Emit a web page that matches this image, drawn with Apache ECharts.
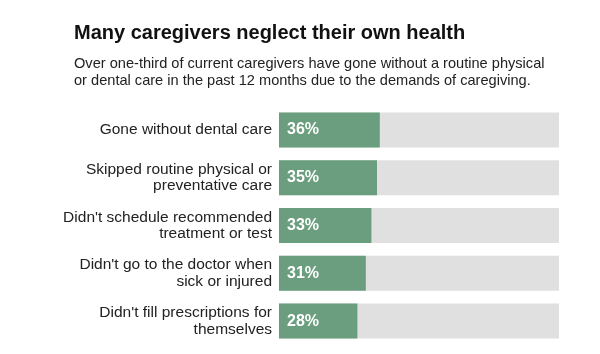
<!DOCTYPE html>
<html>
<head>
<meta charset="utf-8">
<script src="https://cdn.jsdelivr.net/npm/echarts@6/dist/echarts.min.js"></script>
<style>html,body{margin:0;padding:0;background:#fff;}#c{width:600px;height:354px;}</style>
</head>
<body>
<div id="c"></div>
<script>
var titleText = 'Many caregivers neglect their own health';
var subtitleText = 'Over one-third of current caregivers have gone without a routine physical\nor dental care in the past 12 months due to the demands of caregiving.';
var categories = [
  'Gone without dental care',
  'Skipped routine physical or\npreventative care',
  "Didn't schedule recommended\ntreatment or test",
  "Didn't go to the doctor when\nsick or injured",
  "Didn't fill prescriptions for\nthemselves"
];
var values = [36, 35, 33, 31, 28];

var chart = echarts.init(document.getElementById('c'), null, {renderer: 'canvas'});
chart.setOption({
  animation: false,
  backgroundColor: '#ffffff',
  title: [{
    text: titleText,
    left: 74, top: 23,
    padding: 0,
    textStyle: {fontFamily: 'Liberation Sans, Arial, sans-serif', fontSize: 20, fontWeight: 'bold', color: '#111'}
  }, {
    text: subtitleText,
    left: 74, top: 56,
    padding: 0,
    textStyle: {fontFamily: 'Liberation Sans, Arial, sans-serif', fontSize: 14.6, fontWeight: 'normal', color: '#222', lineHeight: 16.5}
  }],
  grid: {left: 279, right: 41, top: 106, bottom: 9, containLabel: false},
  xAxis: {type: 'value', min: 0, max: 100, show: false},
  yAxis: {
    type: 'category', data: categories, inverse: true,
    axisLine: {show: false}, axisTick: {show: false},
    axisLabel: {
      margin: 7, align: 'right',
      fontFamily: 'Liberation Sans, Arial, sans-serif', fontSize: 15.5, color: '#222', lineHeight: 16.5
    }
  },
  series: [{
    type: 'bar',
    data: values,
    barWidth: 35,
    showBackground: true,
    backgroundStyle: {color: '#e0e0e0'},
    itemStyle: {color: '#6a9e7f'},
    label: {
      show: true, position: 'insideLeft', distance: 8,
      formatter: '{c}%',
      color: '#fff', fontSize: 16, fontWeight: 'bold',
      fontFamily: 'Liberation Sans, Arial, sans-serif'
    }
  }]
});
</script>
</body>
</html>
